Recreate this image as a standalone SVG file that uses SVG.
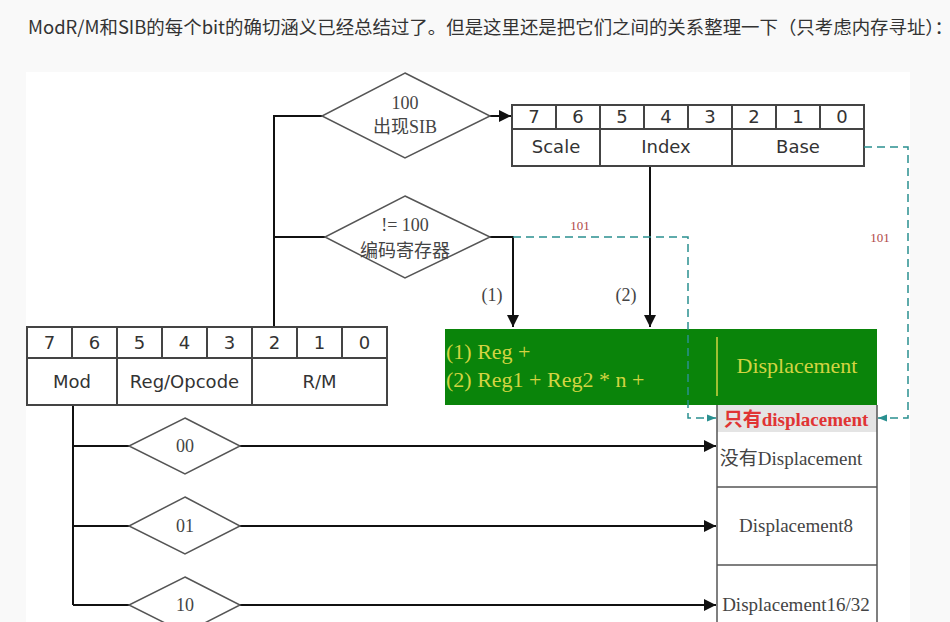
<svg xmlns="http://www.w3.org/2000/svg" width="950" height="622" viewBox="0 0 950 622">
<defs>
<style>
.box{fill:#fff;stroke:#444;stroke-width:2}
.cell{stroke:#444;stroke-width:2;fill:none}
.dig{font-family:"DejaVu Sans",Verdana,sans-serif;font-size:18px;fill:#333;text-anchor:middle}
.dia{fill:#fff;stroke:#555;stroke-width:1.5}
.dt{font-family:"Liberation Serif","Noto Sans CJK SC",serif;font-size:18px;fill:#444;text-anchor:middle}
.ln{fill:none;stroke:#111;stroke-width:2}
.dash{fill:none;stroke:#2a9090;stroke-width:1.5;stroke-dasharray:8 5}
.lbl{font-family:"Liberation Serif",serif;font-size:13px;fill:#b04848;text-anchor:middle}
.gt{font-family:"Liberation Serif",serif;font-size:22px;fill:#d2d442}
.rt{font-family:"Liberation Serif","Noto Sans CJK SC",serif;font-size:19px;fill:#444;text-anchor:middle}
</style>
<marker id="ah" viewBox="0 0 10 10" refX="10" refY="5" markerWidth="6" markerHeight="6" markerUnits="strokeWidth" orient="auto">
<path d="M0,0 L10,5 L0,10 z" fill="#111"/>
</marker>
<marker id="ahd" viewBox="0 0 10 10" refX="10" refY="5" markerWidth="7" markerHeight="6" markerUnits="strokeWidth" orient="auto">
<path d="M0,1 L10,5 L0,9 z" fill="#2a9090"/>
</marker>
</defs>

<rect x="0" y="0" width="950" height="622" fill="#f9f9f9"/>
<rect x="26" y="72" width="884" height="550" fill="#fff"/>

<text x="28" y="34" font-family="'Noto Sans CJK SC','Liberation Sans',sans-serif" font-size="18" fill="#333" textLength="925" lengthAdjust="spacingAndGlyphs">ModR/M和SIB的每个bit的确切涵义已经总结过了。但是这里还是把它们之间的关系整理一下（只考虑内存寻址）：</text>

<g id="connectors">
<path class="ln" d="M274,327 V116 H322"/>
<path class="ln" d="M274,237 H325"/>
<path class="ln" d="M490,116 H511" marker-end="url(#ah)"/>
<path class="ln" d="M490,237 H513 V327" marker-end="url(#ah)"/>
<path class="ln" d="M650,167 V327" marker-end="url(#ah)"/>
<path class="ln" d="M73,406 V605"/>
<path class="ln" d="M73,446 H129"/>
<path class="ln" d="M73,526 H129"/>
<path class="ln" d="M73,605 H129"/>
<path class="ln" d="M240,446 H716" marker-end="url(#ah)"/>
<path class="ln" d="M240,526 H716" marker-end="url(#ah)"/>
<path class="ln" d="M240,605 H716" marker-end="url(#ah)"/>
<text class="dt" x="492" y="301">(1)</text>
<text class="dt" x="626" y="301">(2)</text>
</g>

<g id="modrm">
<rect class="box" x="27" y="327" width="360" height="78"/>
<path class="cell" d="M27,358 H387 M72,327 V358 M117,327 V405 M162,327 V358 M207,327 V358 M252,327 V405 M297,327 V358 M342,327 V358"/>
<text class="dig" x="49.5" y="349">7</text>
<text class="dig" x="94.5" y="349">6</text>
<text class="dig" x="139.5" y="349">5</text>
<text class="dig" x="184.5" y="349">4</text>
<text class="dig" x="229.5" y="349">3</text>
<text class="dig" x="274.5" y="349">2</text>
<text class="dig" x="319.5" y="349">1</text>
<text class="dig" x="364.5" y="349">0</text>
<text class="dig" x="72" y="387.5">Mod</text>
<text class="dig" x="184.5" y="387.5">Reg/Opcode</text>
<text class="dig" x="319.5" y="387.5">R/M</text>
</g>

<g id="sib">
<rect class="box" x="512" y="105" width="352" height="61"/>
<path class="cell" d="M512,129 H864 M556,105 V129 M600,105 V166 M644,105 V129 M688,105 V129 M732,105 V166 M776,105 V129 M820,105 V129"/>
<text class="dig" x="534" y="122.5">7</text>
<text class="dig" x="578" y="122.5">6</text>
<text class="dig" x="622" y="122.5">5</text>
<text class="dig" x="666" y="122.5">4</text>
<text class="dig" x="710" y="122.5">3</text>
<text class="dig" x="754" y="122.5">2</text>
<text class="dig" x="798" y="122.5">1</text>
<text class="dig" x="842" y="122.5">0</text>
<text class="dig" x="556" y="153">Scale</text>
<text class="dig" x="666" y="153">Index</text>
<text class="dig" x="798" y="153">Base</text>
</g>

<g id="d-sib">
<polygon class="dia" points="405,73 490,116 405,158 322,116"/>
<text class="dt" x="405" y="109">100</text>
<text class="dt" x="405" y="133">出现SIB</text>
</g>

<g id="d-reg">
<polygon class="dia" points="405,196 490,237 405,278 325,237"/>
<text class="dt" x="405" y="230.5">!= 100</text>
<text class="dt" x="405" y="256.5">编码寄存器</text>
</g>

<g id="d-00">
<polygon class="dia" points="185,418 240,446 185,474 129,446"/>
<text class="dt" x="185" y="452">00</text>
</g>
<g id="d-01">
<polygon class="dia" points="185,497 240,526 185,554 129,526"/>
<text class="dt" x="185" y="532">01</text>
</g>
<g id="d-10">
<polygon class="dia" points="185,577 240,605 185,633 129,605"/>
<text class="dt" x="185" y="611">10</text>
</g>

<g id="address">
<rect x="445" y="329" width="432" height="76" fill="#0a840a"/>
<line x1="717" y1="337" x2="717" y2="396" stroke="#d2d442" stroke-width="1.5"/>
<text class="gt" x="446" y="359">(1) Reg +</text>
<text class="gt" x="446" y="387">(2) Reg1 + Reg2 * n +</text>
<text class="gt" x="797" y="373" text-anchor="middle">Displacement</text>
</g>

<g id="disp-column">
<rect x="717" y="405" width="160" height="27" fill="#e4e4e4"/>
<path d="M717,405 V622 M877,405 V622 M717,487 H877 M717,565 H877" fill="none" stroke="#555" stroke-width="1.5"/>
<text x="796" y="426" text-anchor="middle" font-family="'Liberation Serif','Noto Sans CJK SC',serif" font-size="19" font-weight="bold" fill="#e03434">只有displacement</text>
<text class="rt" x="791" y="465">没有Displacement</text>
<text class="rt" x="796" y="532">Displacement8</text>
<text class="rt" x="796" y="611">Displacement16/32</text>
</g>

<g id="dashed-connectors">
<path class="dash" d="M513,237 H688 V418 H716" marker-end="url(#ahd)"/>
<path class="dash" d="M864,147 H908 V418 H878" marker-end="url(#ahd)"/>
<text class="lbl" x="580" y="230">101</text>
<text class="lbl" x="880" y="241.5">101</text>
</g>
</svg>
